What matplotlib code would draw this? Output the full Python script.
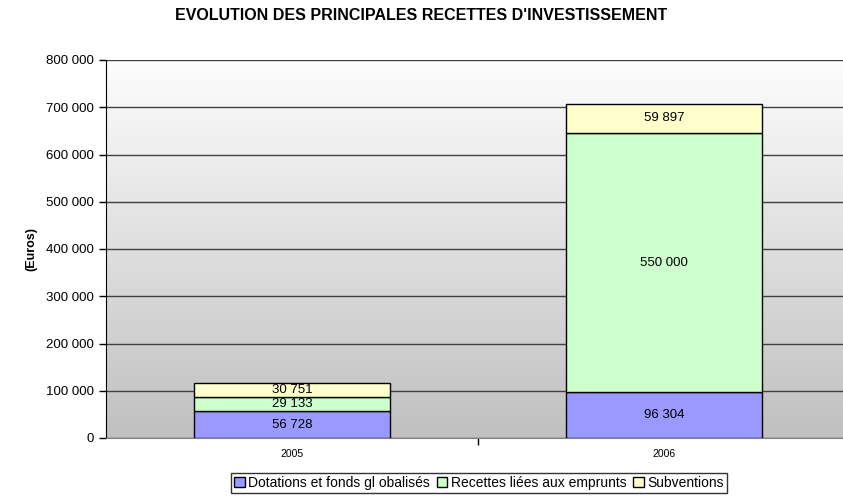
import matplotlib.pyplot as plt, numpy as np
from matplotlib.ticker import FuncFormatter

'''Evolution des principales recettes d'investissement (2005 / 2006)'''

years = ['2005', '2006']
dotations = [56728, 96304]
emprunts = [29133, 550000]
subventions = [30751, 59897]
series_names = ['Dotations et fonds gl obalisés', 'Recettes liées aux emprunts', 'Subventions']
colors = ['#9999ff', '#ccffcc', '#ffffcc']

plt.rcParams['font.family'] = ['Liberation Sans', 'DejaVu Sans']

fig = plt.figure(figsize=(8.43, 4.96), dpi=100)
ax = fig.add_axes([106/843, 58/496, 744/843, 378/496])

# gradient background, white at top to grey at bottom
grad = np.linspace(0, 1, 256).reshape(-1, 1)
ax.imshow(grad, cmap=plt.matplotlib.colors.LinearSegmentedColormap.from_list('g', ['#fdfdfd', '#c0c0c0']),
          extent=[0, 1, 0, 1], transform=ax.transAxes, aspect='auto', zorder=0)

x = np.arange(len(years))
w = 0.527
bottom = np.zeros(len(years))
for vals, name, c in zip([dotations, emprunts, subventions], series_names, colors):
    bars = ax.bar(x, vals, w, bottom=bottom, color=c, edgecolor='black', linewidth=1, label=name, zorder=3)
    for xi, b, v in zip(x, bottom, vals):
        ax.text(xi, b + v / 2, format(v, ',').replace(',', ' '), ha='center', va='center',
                fontsize=9.5, zorder=4)
    bottom += np.array(vals)

ax.set_xlim(-0.5, 1.5)
ax.set_ylim(0, 800000)
ax.set_yticks(range(0, 800001, 100000))
ax.yaxis.set_major_formatter(FuncFormatter(lambda v, p: format(int(v), ',').replace(',', ' ')))
ax.yaxis.grid(True, color='#404040', linewidth=1, zorder=1)
ax.set_axisbelow(True)
ax.tick_params(axis='y', labelsize=9.5, length=5, width=1, direction='out')
ax.set_xticks(x)
ax.set_xticklabels(years, fontsize=7.5)
ax.tick_params(axis='x', length=0, pad=8)
ax.set_xticks([0.5], minor=True)
ax.tick_params(axis='x', which='minor', length=5, width=1)
for s in ['top', 'right']:
    ax.spines[s].set_visible(False)
ax.spines['bottom'].set_color('#808080')
ax.spines['left'].set_color('black')

ax.set_ylabel('(Euros)', fontsize=9, fontweight='bold', labelpad=6)
fig.text(0.5, 1 - 15/496, "EVOLUTION DES PRINCIPALES RECETTES D'INVESTISSEMENT",
         ha='center', va='center', fontsize=11.5, fontweight='bold')

leg = fig.legend(loc='center', bbox_to_anchor=(479/843, 1 - 483/496), ncol=3, fontsize=10,
                 frameon=True, fancybox=False, edgecolor='black', handlelength=0.75, handleheight=0.75,
                 handletextpad=0.25, columnspacing=0.5, borderpad=0.25, borderaxespad=0)
leg.get_frame().set_linewidth(1)

fig.savefig('out.png', dpi=100)
